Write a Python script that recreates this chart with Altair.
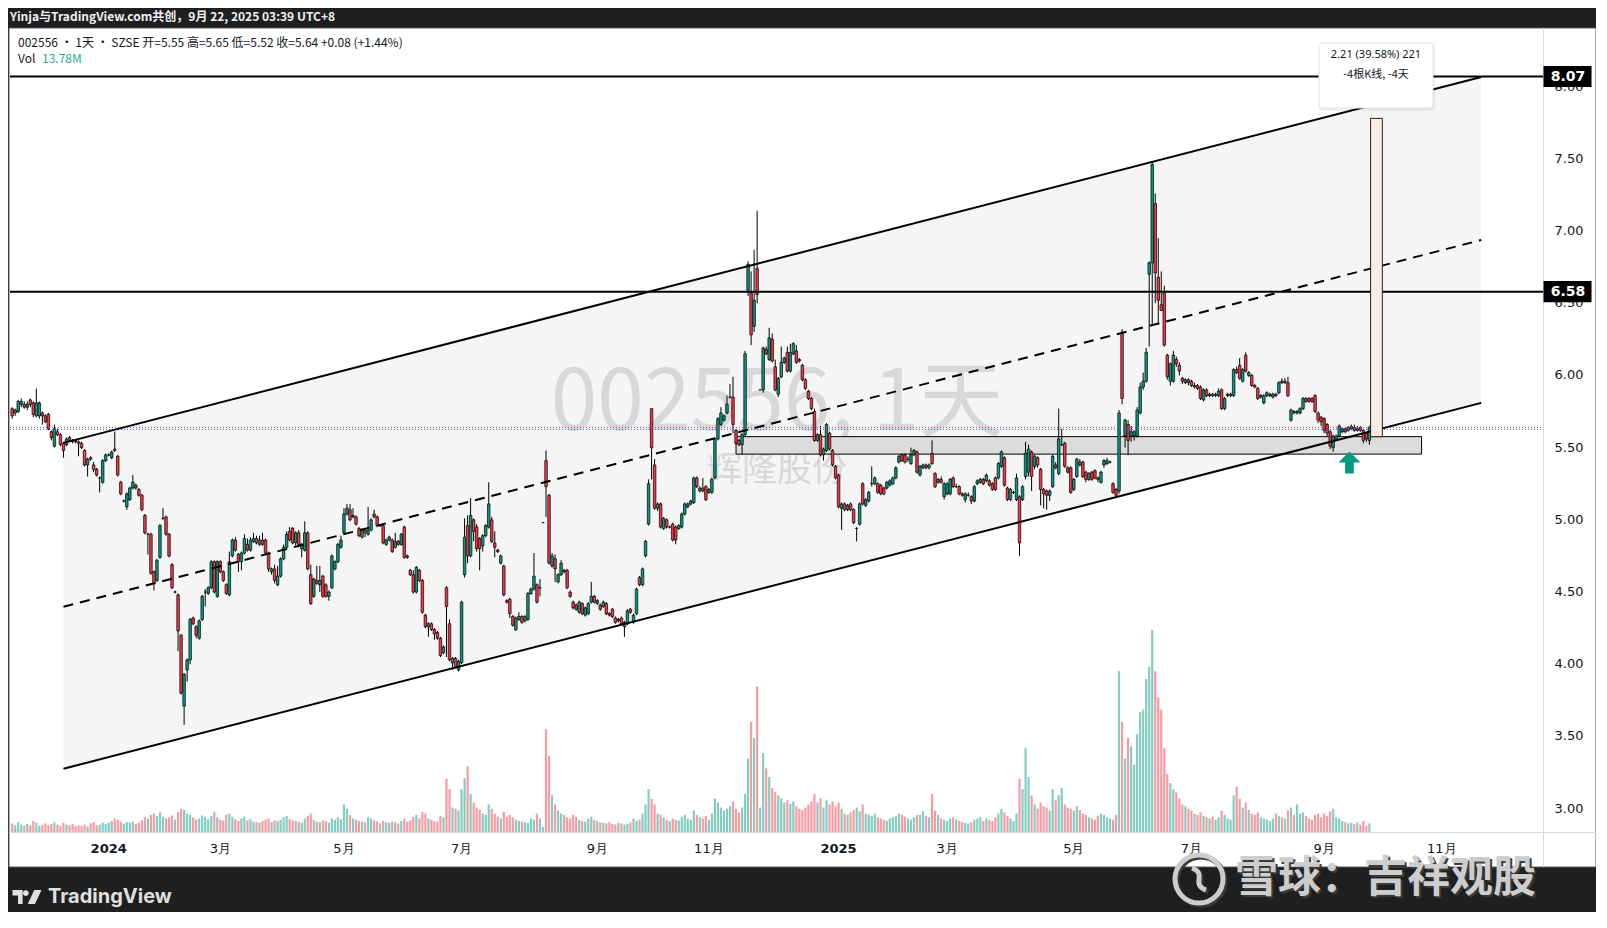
import altair as alt
import pandas as pd

# ---------------- data ----------------
FIRST_BAR = -32  # bar index of the first candle; bar 0 = first trading day of 2024

# (open, high, low, close)
CANDLES_2023 = [
    (5.77,5.78,5.70,5.72),(5.74,5.77,5.72,5.76),(5.75,5.83,5.74,5.82),(5.80,5.84,5.78,5.82),
    (5.80,5.82,5.77,5.78),(5.78,5.82,5.76,5.80),(5.83,5.84,5.78,5.80),(5.81,5.82,5.71,5.73),
    (5.72,5.91,5.71,5.81),(5.72,5.82,5.70,5.81),(5.74,5.75,5.66,5.72),(5.72,5.73,5.67,5.68),
    (5.73,5.74,5.62,5.63),(5.61,5.62,5.55,5.57),(5.51,5.66,5.50,5.63),(5.61,5.63,5.58,5.59),
    (5.59,5.60,5.51,5.52),(5.53,5.54,5.43,5.48),(5.52,5.57,5.51,5.56),(5.57,5.58,5.54,5.55),
    (5.55,5.56,5.53,5.54),(5.55,5.56,5.53,5.54),(5.54,5.55,5.44,5.53),(5.53,5.54,5.49,5.50),
    (5.48,5.49,5.37,5.38),(5.38,5.43,5.30,5.42),(5.43,5.44,5.41,5.42),(5.38,5.40,5.33,5.35),
    (5.35,5.36,5.30,5.31),(5.29,5.30,5.19,5.29),(5.26,5.42,5.25,5.41),(5.41,5.46,5.40,5.45),
]
CANDLES_2024_Q1 = [
    (5.45,5.46,5.44,5.45),(5.43,5.48,5.42,5.47),(5.49,5.61,5.47,5.48),(5.44,5.45,5.30,5.31),
    (5.26,5.27,5.17,5.18),(5.13,5.14,5.12,5.13),(5.09,5.19,5.07,5.18),(5.14,5.23,5.13,5.22),
    (5.22,5.31,5.21,5.26),(5.24,5.25,5.21,5.22),(5.21,5.22,5.16,5.17),(5.17,5.18,5.06,5.07),
    (5.03,5.04,4.90,4.91),(4.90,4.91,4.76,4.90),(4.90,4.91,4.62,4.63),(4.64,4.65,4.51,4.56),
    (4.58,4.73,4.57,4.72),(4.74,4.97,4.73,4.96),(5.01,5.08,5.00,5.01),(5.02,5.03,4.89,4.90),
    (4.90,4.91,4.74,4.75),(4.69,4.70,4.52,4.53),(4.50,4.51,4.49,4.50),(4.48,4.49,4.09,4.23),
    (4.20,4.21,3.79,3.80),(3.71,3.94,3.58,3.93),(3.96,4.04,3.88,4.03),(4.03,4.32,4.00,4.31),
    (4.32,4.33,4.27,4.28),(4.26,4.27,4.18,4.20),(4.18,4.31,4.17,4.30),(4.31,4.48,4.30,4.47),
    (4.50,4.52,4.40,4.50),(4.49,4.54,4.48,4.53),(4.53,4.72,4.52,4.71),(4.71,4.72,4.49,4.50),
    (4.47,4.72,4.46,4.71),(4.71,4.72,4.63,4.64),(4.64,4.65,4.57,4.58),(4.55,4.56,4.48,4.49),
    (4.48,4.78,4.47,4.71),(4.75,4.87,4.74,4.86),(4.86,4.88,4.78,4.79),(4.76,4.77,4.64,4.71),
]
CANDLES_2024_Q2 = [
    (4.71,4.78,4.65,4.77),(4.77,4.90,4.76,4.87),(4.83,4.87,4.78,4.79),(4.79,4.88,4.78,4.86),
    (4.85,4.91,4.84,4.87),(4.87,4.89,4.83,4.84),(4.83,4.89,4.82,4.86),(4.86,4.91,4.82,4.83),
    (4.86,4.87,4.76,4.77),(4.77,4.78,4.64,4.66),(4.64,4.67,4.62,4.66),(4.66,4.69,4.56,4.58),
    (4.55,4.68,4.54,4.61),(4.61,4.74,4.60,4.73),(4.73,4.83,4.72,4.81),(4.81,4.92,4.80,4.90),
    (4.92,4.95,4.85,4.86),(4.94,4.95,4.83,4.84),(4.84,4.92,4.82,4.91),(4.91,4.93,4.81,4.83),
    (4.80,4.84,4.74,4.83),(4.79,4.99,4.78,4.91),(4.91,4.92,4.65,4.66),(4.62,4.69,4.41,4.42),
    (4.47,4.60,4.46,4.59),(4.58,4.68,4.55,4.56),(4.55,4.68,4.50,4.58),(4.61,4.62,4.46,4.47),
    (4.55,4.56,4.46,4.47),(4.47,4.51,4.44,4.50),(4.53,4.76,4.52,4.75),(4.66,4.72,4.65,4.71),
    (4.71,4.84,4.70,4.83),(4.81,4.89,4.80,4.86),(4.91,5.08,4.90,5.04),(5.04,5.11,5.03,5.08),
    (5.07,5.11,4.99,5.00),(5.02,5.08,5.01,5.03),(5.02,5.03,4.96,4.97),(4.94,4.95,4.88,4.89),
    (4.88,4.94,4.87,4.93),(4.93,4.94,4.88,4.91),(4.90,5.09,4.89,4.93),(4.93,5.01,4.92,5.00),
    (5.04,5.07,5.01,5.02),(5.02,5.03,4.95,4.96),(4.96,4.97,4.95,4.96),(4.96,4.97,4.83,4.84),
    (4.83,4.87,4.82,4.86),(4.86,4.89,4.85,4.88),(4.86,4.87,4.77,4.78),(4.81,4.91,4.80,4.85),
    (4.85,4.86,4.82,4.83),(4.83,4.91,4.82,4.90),(4.95,4.96,4.73,4.74),(4.75,4.76,4.73,4.74),
    (4.65,4.66,4.61,4.62),(4.62,4.65,4.49,4.50),(4.50,4.68,4.49,4.67),(4.65,4.66,4.57,4.58),
    (4.58,4.59,4.35,4.36),(4.34,4.35,4.25,4.26),(4.26,4.29,4.19,4.28),(4.28,4.29,4.23,4.24),
    (4.24,4.25,4.17,4.21),(4.22,4.23,4.17,4.18),(4.18,4.19,4.05,4.06),(4.08,4.13,4.07,4.12),
    (4.53,4.54,4.05,4.40),(4.28,4.31,4.02,4.03),(4.01,4.05,3.96,4.04),(4.04,4.05,3.97,3.98),
    (3.96,4.03,3.95,4.02),(4.01,4.44,4.00,4.43),(4.62,5.01,4.60,4.88),(4.96,5.03,4.70,4.75),
]
CANDLES_2024_Q3 = [
    (4.75,5.15,4.74,5.03),(5.00,5.01,4.85,4.92),(4.95,4.97,4.78,4.80),(4.87,4.88,4.65,4.80),
    (4.82,4.90,4.78,4.89),(4.89,4.97,4.88,4.96),(4.95,5.26,4.94,5.11),(5.00,5.02,4.84,4.85),
    (4.84,4.92,4.74,4.81),(4.79,4.80,4.77,4.78),(4.70,4.76,4.69,4.75),(4.68,4.69,4.47,4.48),
    (4.44,4.45,4.42,4.43),(4.45,4.46,4.32,4.35),(4.33,4.34,4.26,4.27),(4.24,4.33,4.23,4.32),
    (4.31,4.36,4.30,4.33),(4.33,4.34,4.28,4.29),(4.30,4.34,4.29,4.33),(4.31,4.50,4.30,4.49),
    (4.49,4.53,4.48,4.52),(4.52,4.77,4.51,4.61),(4.55,4.56,4.42,4.43),(4.53,4.59,4.47,4.53),
    (4.98,4.98,4.98,4.98),(5.41,5.48,5.02,5.23),(5.17,5.18,4.69,4.70),(4.68,4.77,4.67,4.75),
    (4.73,4.76,4.57,4.66),(4.57,4.63,4.56,4.62),(4.62,4.72,4.61,4.70),(4.65,4.66,4.63,4.64),
    (4.65,4.66,4.52,4.53),(4.50,4.51,4.46,4.47),(4.43,4.44,4.38,4.39),(4.41,4.42,4.37,4.38),
    (4.36,4.44,4.35,4.43),(4.42,4.43,4.34,4.35),(4.34,4.40,4.33,4.39),(4.35,4.43,4.34,4.42),
    (4.43,4.57,4.42,4.47),(4.47,4.48,4.42,4.43),(4.42,4.45,4.41,4.44),(4.41,4.42,4.37,4.38),
    (4.40,4.44,4.39,4.43),(4.42,4.43,4.34,4.35),(4.35,4.36,4.33,4.34),(4.38,4.39,4.32,4.33),
    (4.32,4.33,4.28,4.29),(4.30,4.32,4.29,4.31),(4.32,4.33,4.27,4.28),(4.26,4.30,4.19,4.29),
    (4.28,4.38,4.27,4.37),(4.38,4.39,4.35,4.36),(4.29,4.35,4.28,4.34),(4.35,4.53,4.34,4.52),
    (4.60,4.61,4.54,4.55),(4.55,4.67,4.54,4.66),(4.75,4.86,4.74,4.85),(4.97,5.28,4.96,5.25),
    (5.77,5.77,5.28,5.50),(5.38,5.42,5.07,5.08),(5.08,5.12,5.06,5.11),(5.11,5.12,4.94,4.95),
    (4.94,5.02,4.93,5.01),(5.00,5.01,4.94,4.95),(4.95,4.96,4.94,4.95),(4.97,4.98,4.85,4.86),
    (4.95,4.96,4.83,4.86),(4.94,4.97,4.93,4.96),(4.95,5.05,4.94,5.04),(5.04,5.12,5.03,5.11),
    (5.09,5.12,5.08,5.11),(5.11,5.14,5.10,5.13),(5.12,5.30,5.11,5.29),
]
CANDLES_2024_Q4 = [
    (5.29,5.30,5.22,5.23),(5.20,5.23,5.19,5.22),(5.22,5.29,5.19,5.20),(5.23,5.24,5.13,5.14),
    (5.19,5.22,5.18,5.21),(5.19,5.29,5.18,5.28),(5.29,5.57,5.28,5.56),(5.56,5.71,5.55,5.70),
    (5.66,5.78,5.65,5.74),(5.69,5.73,5.68,5.72),(5.74,5.86,5.73,5.80),(5.85,5.94,5.84,5.85),
    (5.85,5.99,5.60,5.66),(5.62,5.63,5.52,5.53),(5.55,5.56,5.51,5.52),(5.52,5.60,5.45,5.59),
    (5.59,6.17,5.58,6.15),(6.59,6.79,6.55,6.77),(6.57,6.72,6.21,6.28),(6.34,6.87,6.30,6.52),
    (6.74,7.14,6.50,6.56),(5.90,5.90,5.90,5.90),(5.90,6.20,5.88,6.19),(6.18,6.20,6.14,6.15),
    (6.11,6.33,6.10,6.26),(6.25,6.29,6.09,6.10),(6.06,6.11,5.89,5.90),(5.87,5.99,5.85,5.98),
    (5.99,6.20,5.98,6.09),(6.09,6.13,6.08,6.12),(6.16,6.20,6.02,6.03),(6.03,6.22,6.02,6.16),
    (6.15,6.23,6.14,6.22),(6.17,6.21,6.08,6.09),(6.11,6.12,6.09,6.10),(6.07,6.08,5.96,5.97),
    (5.97,5.98,5.90,5.91),(5.89,5.90,5.83,5.84),(5.84,5.85,5.76,5.77),(5.75,5.77,5.54,5.55),
    (5.55,5.60,5.54,5.59),(5.59,5.65,5.44,5.45),(5.45,5.50,5.41,5.49),(5.48,5.67,5.47,5.66),
    (5.60,5.61,5.48,5.49),(5.48,5.49,5.37,5.38),
]
CANDLES_2025_Q1 = [
    (5.37,5.38,5.28,5.29),(5.31,5.32,5.08,5.09),(5.08,5.12,4.93,5.11),(5.11,5.12,5.06,5.07),
    (5.07,5.11,5.06,5.10),(5.11,5.12,5.06,5.07),(5.07,5.08,4.97,4.98),(4.94,4.95,4.85,4.94),
    (4.97,5.12,4.96,5.11),(5.25,5.26,5.10,5.11),(5.10,5.15,5.09,5.14),(5.13,5.20,5.12,5.19),
    (5.25,5.37,5.23,5.25),(5.25,5.30,5.24,5.29),(5.25,5.26,5.18,5.19),(5.24,5.25,5.17,5.18),
    (5.22,5.23,5.17,5.18),(5.22,5.27,5.21,5.26),(5.24,5.28,5.23,5.27),(5.25,5.30,5.24,5.29),
    (5.29,5.37,5.28,5.36),(5.40,5.45,5.39,5.44),(5.45,5.46,5.40,5.41),(5.45,5.46,5.39,5.40),
    (5.42,5.44,5.40,5.42),(5.39,5.50,5.38,5.45),(5.45,5.49,5.44,5.48),(5.47,5.48,5.32,5.33),
    (5.31,5.38,5.30,5.37),(5.36,5.39,5.35,5.38),(5.38,5.39,5.35,5.36),
    (5.36,5.39,5.35,5.38),(5.46,5.55,5.38,5.39),(5.32,5.33,5.22,5.23),(5.26,5.29,5.25,5.28),
    (5.28,5.30,5.25,5.26),(5.16,5.26,5.14,5.25),(5.18,5.26,5.17,5.25),(5.18,5.29,5.17,5.28),
    (5.29,5.30,5.22,5.23),(5.23,5.25,5.22,5.23),(5.23,5.24,5.17,5.18),(5.18,5.19,5.16,5.17),
    (5.14,5.19,5.12,5.18),(5.17,5.19,5.16,5.17),(5.16,5.17,5.11,5.13),(5.13,5.24,5.12,5.23),
    (5.25,5.28,5.24,5.27),(5.26,5.29,5.25,5.28),(5.28,5.29,5.24,5.25),(5.27,5.32,5.26,5.31),
    (5.27,5.28,5.23,5.24),(5.25,5.26,5.20,5.21),(5.29,5.30,5.20,5.21),(5.29,5.40,5.28,5.39),
    (5.37,5.48,5.36,5.47),(5.43,5.44,5.23,5.24),(5.22,5.23,5.13,5.14),(5.14,5.22,5.13,5.21),
    (5.19,5.20,5.18,5.19),(5.14,5.32,5.13,5.29),
]
CANDLES_2025_Q2 = [
    (5.16,5.17,4.75,4.84),(5.14,5.24,5.13,5.23),(5.30,5.54,5.28,5.46),(5.33,5.52,5.30,5.49),
    (5.47,5.48,5.20,5.30),(5.37,5.45,5.35,5.44),(5.43,5.44,5.36,5.38),(5.35,5.36,5.10,5.21),
    (5.21,5.22,5.08,5.18),(5.20,5.21,5.07,5.17),(5.17,5.21,5.13,5.20),(5.23,5.45,5.22,5.44),
    (5.38,5.40,5.35,5.36),(5.32,5.77,5.31,5.56),(5.52,5.63,5.51,5.52),(5.53,5.54,5.36,5.37),
    (5.36,5.37,5.32,5.33),(5.36,5.37,5.18,5.19),(5.21,5.29,5.20,5.28),(5.30,5.43,5.29,5.42),
    (5.40,5.42,5.37,5.38),(5.40,5.41,5.29,5.30),(5.33,5.34,5.26,5.28),(5.28,5.33,5.27,5.32),
    (5.33,5.34,5.27,5.28),(5.34,5.35,5.28,5.29),(5.29,5.30,5.26,5.28),(5.26,5.34,5.25,5.33),
    (5.38,5.42,5.36,5.41),(5.39,5.43,5.38,5.41),(5.40,5.41,5.39,5.40),(5.25,5.26,5.18,5.19),
    (5.21,5.22,5.16,5.17),(5.20,5.76,5.18,5.74),(6.30,6.32,5.80,5.84),
    (5.58,5.70,5.50,5.69),(5.66,5.69,5.45,5.55),(5.58,5.65,5.54,5.61),(5.58,5.62,5.55,5.61),
    (5.58,5.78,5.57,5.76),(5.74,5.95,5.73,5.92),(5.92,6.02,5.90,5.96),(5.96,6.19,5.95,6.16),
    (6.70,6.79,6.20,6.78),(6.78,7.48,6.35,7.46),(7.19,7.26,6.50,6.71),(6.68,6.95,6.35,6.52),
    (6.49,6.72,6.45,6.45),(6.57,6.62,6.20,6.21),(6.14,6.15,5.97,5.99),(5.96,6.09,5.93,6.08),
    (5.96,6.17,5.95,6.14),(6.11,6.13,6.06,6.08),(6.07,6.09,6.00,6.03),(5.98,5.99,5.94,5.96),
]
CANDLES_2025_Q3 = [
    (5.95,5.98,5.94,5.97),(5.97,5.98,5.93,5.95),(5.96,5.97,5.92,5.93),(5.92,5.95,5.91,5.93),
    (5.93,5.94,5.90,5.91),(5.92,5.93,5.83,5.84),(5.83,5.91,5.82,5.90),(5.90,5.91,5.85,5.86),
    (5.86,5.88,5.85,5.87),(5.87,5.88,5.85,5.86),(5.86,5.88,5.85,5.87),(5.86,5.91,5.85,5.89),
    (5.90,5.91,5.76,5.77),(5.77,5.85,5.76,5.84),(5.86,5.88,5.85,5.87),(5.86,5.88,5.85,5.87),
    (5.86,6.05,5.85,6.04),(6.04,6.06,6.01,6.02),(6.07,6.12,5.97,5.98),(5.96,6.05,5.95,6.04),
    (6.14,6.16,6.02,6.03),(6.00,6.03,5.99,6.02),(6.00,6.01,5.92,5.93),(5.93,5.94,5.91,5.92),
    (5.91,5.92,5.83,5.84),(5.85,5.87,5.84,5.86),(5.81,5.87,5.80,5.86),(5.86,5.89,5.85,5.88),
    (5.86,5.88,5.85,5.87),(5.85,5.88,5.84,5.87),(5.87,5.88,5.85,5.86),(5.88,5.96,5.87,5.95),
    (5.96,5.98,5.94,5.95),(5.95,5.98,5.94,5.96),(5.95,5.99,5.85,5.86),(5.69,5.77,5.68,5.76),
    (5.75,5.76,5.73,5.74),(5.74,5.76,5.73,5.75),(5.74,5.78,5.73,5.77),(5.77,5.85,5.76,5.84),
    (5.84,5.85,5.81,5.82),(5.84,5.85,5.81,5.82),(5.84,5.85,5.81,5.82),(5.86,5.87,5.74,5.75),
    (5.74,5.75,5.67,5.69),(5.71,5.72,5.65,5.68),(5.70,5.71,5.60,5.62),(5.66,5.67,5.58,5.60),
    (5.61,5.62,5.49,5.51),(5.50,5.59,5.47,5.58),(5.56,5.59,5.55,5.58),(5.58,5.66,5.57,5.65),
    (5.61,5.64,5.60,5.63),(5.63,5.64,5.60,5.61),(5.62,5.65,5.61,5.64),(5.63,5.66,5.62,5.645),
    (5.64,5.66,5.61,5.62),(5.62,5.65,5.61,5.63),(5.64,5.65,5.61,5.62),(5.62,5.63,5.53,5.55),
    (5.60,5.61,5.54,5.56),(5.55,5.65,5.52,5.64),
]

# volume, millions
VOLUME_2023 = [14,11,16,12,10,13,11,18,15,10,12,14,11,13,16,12,10,15,12,11,13,9,11,10,12,9,14,16,11,12,15,13]
VOLUME_2024_Q1 = [15,18,22,20,17,14,16,15,17,13,15,19,24,22,28,30,26,32,25,22,24,27,
                  20,33,38,36,30,28,24,20,22,27,25,21,26,33,24,20,19,28,30,25,21,18]
VOLUME_2024_Q2 = [22,25,19,21,17,16,15,18,20,22,16,19,18,20,24,26,21,19,18,17,15,22,26,30,20,17,16,19,18,15,22,20,24,21,
                  45,38,28,22,20,18,17,16,24,22,19,17,14,18,16,15,17,16,14,18,22,17,19,
                  25,28,22,33,30,22,20,18,17,26,24,87,70,40,38,35,70,88,107]
VOLUME_2024_Q3 = [62,48,40,36,30,28,45,38,30,25,22,33,25,28,24,20,18,17,16,15,22,20,30,22,
                  8,168,124,60,45,35,30,28,24,22,28,25,20,18,17,22,25,20,18,16,15,14,16,13,
                  12,15,14,12,13,16,22,18,20,30,45,70,54,45,30,28,24,20,18,22,20,19,25,28,22,20,35]
VOLUME_2024_Q4 = [28,24,22,26,20,30,55,48,40,35,38,42,50,38,32,40,62,120,180,154,238,40,129,104,90,72,
                  65,60,55,48,52,46,50,42,38,36,40,45,50,62,48,55,40,52,45,50]
VOLUME_2025_Q1 = [42,48,38,30,28,32,36,40,34,45,30,28,26,30,24,22,20,18,22,24,26,30,28,25,22,20,24,28,28,34,26,
                  24,62,35,28,22,20,18,22,24,20,18,16,15,14,16,20,22,24,18,22,20,18,24,30,38,32,26,22,18,30]
VOLUME_2025_Q2 = [87,70,137,90,60,45,38,48,42,40,35,70,52,60,72,45,40,38,35,42,36,30,28,24,22,20,26,30,28,24,22,20,28,
                  263,180,120,154,140,110,160,196,200,250,270,330,263,220,200,137,95,80,70,65,55,45]
VOLUME_2025_Q3 = [42,38,35,30,28,32,26,24,22,25,20,24,35,28,22,20,60,74,54,40,48,36,30,28,32,24,22,20,18,22,30,26,24,22,35,
                  40,28,45,30,32,26,22,20,28,30,24,30,26,34,38,24,22,18,16,14,15,13,16,12,18,10,14]

# drawings (bar index, price)
CHANNEL_BARS = [-15.0, 455.1]
CHANNEL_UPPER = [5.533, 8.067]
CHANNEL_MIDDLE = [4.398, 6.938]
CHANNEL_LOWER = [3.276, 5.810]
LEVELS = [8.07, 6.58]
ZONE_BARS = [208.0, 435.3]
ZONE_PRICES = [5.455, 5.576]
MEASURE_BARS = [418.4, 422.3]
MEASURE_PRICES = [5.576, 7.78]
ARROW_BAR, ARROW_PRICE = 411.4, 5.397
PRICE_LINES = [5.640, 5.626]
PRICE_LINE_COLORS = ["#F23645", "#2962FF"]

PRICE_TICKS = [3.0, 3.5, 4.0, 4.5, 5.0, 5.5, 6.0, 6.5, 7.0, 7.5, 8.0]
TIME_TICK_BARS = [0, 37, 78, 117, 162, 199, 242, 278, 320, 359, 403, 442]
TIME_TICK_LABELS = ["2024", "3月", "5月", "7月", "9月", "11月", "2025", "3月", "5月", "7月", "9月", "11月"]
YEAR_LABELS = {"2024", "2025"}

# ---------------- tables ----------------
candles = (CANDLES_2023 + CANDLES_2024_Q1 + CANDLES_2024_Q2 + CANDLES_2024_Q3 + CANDLES_2024_Q4
           + CANDLES_2025_Q1 + CANDLES_2025_Q2 + CANDLES_2025_Q3)
volumes = (VOLUME_2023 + VOLUME_2024_Q1 + VOLUME_2024_Q2 + VOLUME_2024_Q3 + VOLUME_2024_Q4
           + VOLUME_2025_Q1 + VOLUME_2025_Q2 + VOLUME_2025_Q3)

rows = []
for k, ((o, h, l, c), v) in enumerate(zip(candles, volumes)):
    i = FIRST_BAR + k
    rows.append(dict(i=i, bx0=i - 0.42, bx1=i + 0.42, vx0=i - 0.36, vx1=i + 0.36,
                     o=o, h=h, l=l, c=c, v=v, zero=0,
                     dir="up" if c >= o else "down"))
df = pd.DataFrame(rows)

chan_df = pd.DataFrame({"i": CHANNEL_BARS, "up": CHANNEL_UPPER, "lo": CHANNEL_LOWER})
solid_df = pd.DataFrame({"i0": [CHANNEL_BARS[0]] * 2, "i1": [CHANNEL_BARS[1]] * 2,
                         "p0": [CHANNEL_UPPER[0], CHANNEL_LOWER[0]],
                         "p1": [CHANNEL_UPPER[1], CHANNEL_LOWER[1]]})
mid_df = pd.DataFrame({"i0": [CHANNEL_BARS[0]], "i1": [CHANNEL_BARS[1]],
                       "p0": [CHANNEL_MIDDLE[0]], "p1": [CHANNEL_MIDDLE[1]]})
level_df = pd.DataFrame({"p": LEVELS, "label": [f"{p:.2f}" for p in LEVELS]})
zone_df = pd.DataFrame({"i0": [ZONE_BARS[0]], "i1": [ZONE_BARS[1]],
                        "p0": [ZONE_PRICES[0]], "p1": [ZONE_PRICES[1]]})
measure_df = pd.DataFrame({"i0": [MEASURE_BARS[0]], "i1": [MEASURE_BARS[1]],
                           "p0": [MEASURE_PRICES[0]], "p1": [MEASURE_PRICES[1]]})
arrow_df = pd.DataFrame({"i": [ARROW_BAR], "p": [ARROW_PRICE]})
pline_df = pd.DataFrame({"p": PRICE_LINES, "col": PRICE_LINE_COLORS})
pt_df = pd.DataFrame({"p": PRICE_TICKS, "label": [f"{p:.2f}" for p in PRICE_TICKS]})
tt_df = pd.DataFrame({"i": TIME_TICK_BARS, "label": TIME_TICK_LABELS})
tt_year = tt_df[tt_df["label"].isin(YEAR_LABELS)]
tt_month = tt_df[~tt_df["label"].isin(YEAR_LABELS)]
ONE = pd.DataFrame({"k": [0]})

# ---------------- scales ----------------
W, H = 1533, 804
XS = alt.Scale(domain=[-32.73, 475.57], nice=False, zero=False)
PS = alt.Scale(domain=[2.838, 8.406], nice=False, zero=False)
VS = alt.Scale(domain=[0, 1314], nice=False, zero=False)


def X(f):
    return alt.X(f, type="quantitative", scale=XS, axis=None)


def Y(f):
    return alt.Y(f, type="quantitative", scale=PS, axis=None)


CJK = "Noto Sans CJK SC"
AXF = "DejaVu Sans"
TXT = "#131722"
UP, DOWN = "#089981", "#F23645"

layers = []

# panel background
layers.append(alt.Chart(ONE).mark_rect(fill="white", stroke="#5a5a5a", strokeWidth=1).encode(
    x=alt.value(-1), x2=alt.value(1586), y=alt.value(0), y2=alt.value(839)))

# channel shading
layers.append(alt.Chart(chan_df).mark_area(color="#f5f5f5", opacity=1).encode(
    x=X("i"), y=Y("up"), y2="lo"))

# symbol watermark
layers.append(alt.Chart(ONE).mark_text(text="002556, 1天", font=CJK, fontSize=84, color="#d8d8d8",
                                       align="center", baseline="alphabetic").encode(
    x=alt.value(767), y=alt.value(402)))
layers.append(alt.Chart(ONE).mark_text(text="辉隆股份", font=CJK, fontSize=35, color="#d8d8d8",
                                       align="center", baseline="middle").encode(
    x=alt.value(767), y=alt.value(442)))

# support zone
layers.append(alt.Chart(zone_df).mark_rect(fill="#dcdcdc", stroke="black", strokeWidth=1).encode(
    x=X("i0"), x2="i1", y=Y("p0"), y2="p1"))

# volume
layers.append(alt.Chart(df).mark_rect().encode(
    x=X("vx0"), x2="vx1",
    y=alt.Y("v", type="quantitative", scale=VS, axis=None), y2="zero",
    color=alt.condition("datum.dir === 'up'", alt.value("#83ccc0"), alt.value("#f89aa2"))))

# wicks and bodies
layers.append(alt.Chart(df).mark_rule(color="black", strokeWidth=1).encode(
    x=X("i"), y=Y("l"), y2="h"))
layers.append(alt.Chart(df).mark_rect(stroke="black", strokeWidth=0.7).encode(
    x=X("bx0"), x2="bx1", y=Y("o"), y2="c",
    fill=alt.condition("datum.dir === 'up'", alt.value(UP), alt.value(DOWN))))

# price lines (dotted)
layers.append(alt.Chart(pline_df).mark_rule(strokeDash=[1, 2], strokeWidth=1).encode(
    y=Y("p"), x=alt.value(0), x2=alt.value(W), color=alt.Color("col:N", scale=None)))

# channel lines
layers.append(alt.Chart(solid_df).mark_rule(color="black", strokeWidth=2).encode(
    x=X("i0"), x2="i1", y=Y("p0"), y2="p1"))
layers.append(alt.Chart(mid_df).mark_rule(color="black", strokeWidth=2, strokeDash=[10, 7]).encode(
    x=X("i0"), x2="i1", y=Y("p0"), y2="p1"))

# horizontal levels
layers.append(alt.Chart(level_df).mark_rule(color="black", strokeWidth=2).encode(
    y=Y("p"), x=alt.value(0), x2=alt.value(W)))

# measure box
layers.append(alt.Chart(measure_df).mark_rect(fill="#f9ece0", stroke="#222222", strokeWidth=1).encode(
    x=X("i0"), x2="i1", y=Y("p0"), y2="p1"))

# arrow
ARROW = "M0,-1 L1,0 L0.4,0 L0.4,1 L-0.4,1 L-0.4,0 L-1,0 Z"
layers.append(alt.Chart(arrow_df).mark_point(shape=ARROW, size=484, filled=True, color=UP, opacity=1).encode(
    x=X("i"), y=Y("p")))

# measure tooltip
layers.append(alt.Chart(ONE).mark_rect(fill="#000000", opacity=0.06, cornerRadius=5).encode(
    x=alt.value(1308), x2=alt.value(1425), y=alt.value(15), y2=alt.value(83)))
layers.append(alt.Chart(ONE).mark_rect(fill="white", stroke="#e4e4e4", cornerRadius=4).encode(
    x=alt.value(1309), x2=alt.value(1423), y=alt.value(15), y2=alt.value(80)))
layers.append(alt.Chart(ONE).mark_text(text="2.21 (39.58%) 221", font="Noto Sans", fontSize=11, color=TXT,
                                       align="center", baseline="middle").encode(
    x=alt.value(1366), y=alt.value(27)))
layers.append(alt.Chart(ONE).mark_text(text="-4根K线, -4天", font=CJK, fontSize=11, color=TXT,
                                       align="center", baseline="middle").encode(
    x=alt.value(1366), y=alt.value(47)))

# axis dividers
layers.append(alt.Chart(ONE).mark_rule(color="#d6d8de", strokeWidth=1).encode(
    x=alt.value(W + 0.5), y=alt.value(0), y2=alt.value(839)))
layers.append(alt.Chart(ONE).mark_rule(color="#d6d8de", strokeWidth=1).encode(
    y=alt.value(H + 0.5), x=alt.value(-1), x2=alt.value(1586)))

# price axis labels
layers.append(alt.Chart(pt_df).mark_text(font=AXF, fontSize=13, color=TXT, align="center",
                                         baseline="middle").encode(
    y=Y("p"), x=alt.value(1559), text="label:N"))
BOX = "M-1,-0.44 L1,-0.44 L1,0.44 L-1,0.44 Z"
layers.append(alt.Chart(level_df).mark_point(shape=BOX, size=48 * 48, filled=True, color="black", opacity=1).encode(
    y=Y("p"), x=alt.value(1557.5)))
layers.append(alt.Chart(level_df).mark_text(font=AXF, fontSize=14, fontWeight="bold", color="white",
                                            align="center", baseline="middle").encode(
    y=Y("p"), x=alt.value(1558), text="label:N"))

# time axis labels
layers.append(alt.Chart(tt_month).mark_text(font=AXF, fontSize=13, color=TXT, align="center",
                                            baseline="middle").encode(
    x=X("i"), y=alt.value(821), text="label:N"))
layers.append(alt.Chart(tt_year).mark_text(font=AXF, fontSize=13, fontWeight="bold", color=TXT,
                                           align="center", baseline="middle").encode(
    x=X("i"), y=alt.value(821), text="label:N"))

# header texts
layers.append(alt.Chart(ONE).mark_text(text="Yinja与TradingView.com共创，9月 22, 2025 03:39 UTC+8", font=CJK,
                                       fontSize=12, fontWeight="bold", color="#f0f0f0", align="left",
                                       baseline="middle").encode(x=alt.value(0), y=alt.value(-11)))
layers.append(alt.Chart(ONE).mark_text(
    text="002556 · 1天 · SZSE   开=5.55   高=5.65   低=5.52   收=5.64   +0.08 (+1.44%)", font=CJK,
    fontSize=12, color=TXT, align="left", baseline="middle").encode(x=alt.value(8), y=alt.value(15)))
layers.append(alt.Chart(ONE).mark_text(text="Vol", font=CJK, fontSize=12, color=TXT, align="left",
                                       baseline="middle").encode(x=alt.value(8), y=alt.value(31)))
layers.append(alt.Chart(ONE).mark_text(text="13.78M", font=CJK, fontSize=12, color="#22ab94", align="left",
                                       baseline="middle").encode(x=alt.value(32), y=alt.value(31)))

# footer: TradingView logo
TV_LOGO = ("M-1,-0.48 L-0.3,-0.48 L-0.3,0.48 L-0.62,0.48 L-0.62,-0.1 L-1,-0.1 Z "
           "M-0.28,-0.27 A0.2,0.2 0 1,0 0.12,-0.27 A0.2,0.2 0 1,0 -0.28,-0.27 Z "
           "M0.5,-0.48 L1,-0.48 L0.55,0.48 L0.05,0.48 Z")
layers.append(alt.Chart(ONE).mark_point(shape=TV_LOGO, size=29 * 29, filled=True, color="#e0e0e0",
                                        opacity=1).encode(x=alt.value(17), y=alt.value(869)))
layers.append(alt.Chart(ONE).mark_text(text="TradingView", font="Inter", fontSize=20, fontWeight="bold",
                                       color="#e0e0e0", align="left", baseline="middle").encode(
    x=alt.value(38), y=alt.value(869)))

# footer: watermark
SWIRL = "M-0.35,-0.55 C0.45,-0.25 -0.45,0.25 0.35,0.55"
for dx, col in [(2, "#3a3a3a"), (0, "#cdcdcd")]:
    layers.append(alt.Chart(ONE).mark_point(shape="circle", size=48 * 48, filled=False, color=col,
                                            strokeWidth=5, opacity=1).encode(
        x=alt.value(1189 + dx), y=alt.value(851 + dx)))
    layers.append(alt.Chart(ONE).mark_point(shape=SWIRL, size=40 * 40, filled=False, color=col,
                                            strokeWidth=5, opacity=1).encode(
        x=alt.value(1189 + dx), y=alt.value(851 + dx)))
    layers.append(alt.Chart(ONE).mark_text(text="雪球：吉祥观股", font=CJK, fontSize=43, fontWeight="bold",
                                           color=col, align="left", baseline="middle").encode(
        x=alt.value(1225 + dx), y=alt.value(851 + dx)))

chart = alt.layer(*layers).resolve_scale(y="independent").properties(
    width=W, height=H,
    padding={"left": 2, "top": 20, "right": 53, "bottom": 80},
    autosize=alt.AutoSizeParams(type="none"),
    background="#1f1f1f",
).configure_view(stroke=None)

chart.save("out.html", embed_options={"renderer": "svg", "actions": False})
